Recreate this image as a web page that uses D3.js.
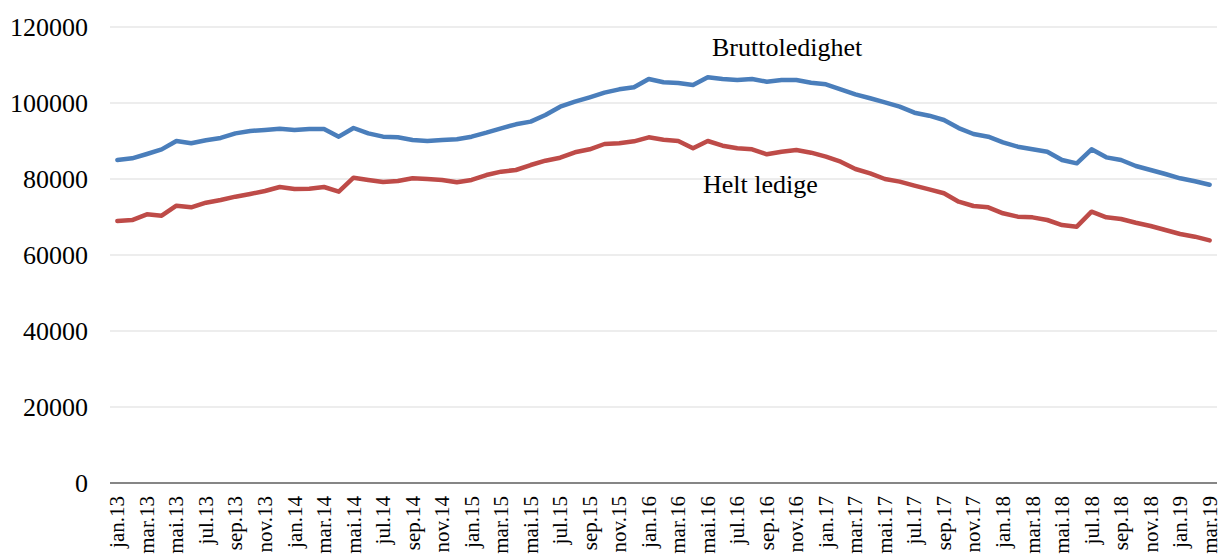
<!DOCTYPE html>
<meta charset="utf-8">
<head>
  <script src="https://d3js.org/d3.v7.min.js"></script>
  <style>
    body { margin: 0; background: #fff; }
    text { font-family: "Liberation Serif", "Times New Roman", serif; fill: #000; }
  </style>
</head>
<body>
<div id="my_dataviz"></div>
<script>
// monthly categories jan.13 .. mar.19
var monthNames = ["jan", "feb", "mar", "apr", "mai", "jun", "jul", "aug", "sep", "okt", "nov", "des"];
var months = [];
for (var yr = 13; yr <= 19; yr++) {
  for (var m = 0; m < 12; m++) {
    if (yr == 19 && m > 2) break;
    months.push(monthNames[m] + "." + yr);
  }
}

// Bruttoledighet
var brutto = [85000, 85450, 86580, 87800, 90000, 89400, 90180, 90800, 92000, 92630,
  92900, 93240, 92900, 93160, 93160, 91140, 93420, 92000, 91140, 90970,
  90260, 90000, 90260, 90440, 91140, 92190, 93340, 94390, 95090, 96840,
  99030, 100350, 101500, 102720, 103600, 104130, 106320, 105450, 105260, 104740,
  106760, 106320, 106050, 106320, 105610, 106050, 106050, 105350, 104920, 103600,
  102290, 101240, 100180, 99030, 97450, 96660, 95530, 93400, 91840, 91140,
  89650, 88500, 87820, 87190, 85000, 84120, 87820, 85700, 85000, 83420,
  82370, 81320, 80180, 79390, 78500];

// Helt ledige
var heltLedige = [68950, 69200, 70700, 70350, 72980, 72540, 73770, 74470, 75350, 76060,
  76850, 77900, 77370, 77460, 77900, 76670, 80350, 79740, 79210, 79470,
  80180, 80000, 79740, 79120, 79740, 81050, 81930, 82370, 83680, 84820,
  85610, 87020, 87820, 89210, 89390, 89920, 90970, 90350, 90000, 88080,
  90000, 88770, 88080, 87820, 86500, 87190, 87630, 86930, 85870, 84560,
  82630, 81490, 80000, 79300, 78250, 77280, 76240, 74030, 72890, 72540,
  70970, 70090, 69910, 69210, 67890, 67450, 71400, 69910, 69470, 68500,
  67630, 66580, 65530, 64820, 63850];

var yTicks = [0, 20000, 40000, 60000, 80000, 100000, 120000];

var W = 1225, H = 554;
var margin = { top: 27, right: 8, bottom: 71, left: 110 };

var svg = d3.select("#my_dataviz")
  .append("svg")
  .attr("width", W)
  .attr("height", H);

var x = d3.scaleBand()
  .domain(months)
  .range([margin.left, W - margin.right]);

var y = d3.scaleLinear()
  .domain([0, 120000])
  .range([H - margin.bottom, margin.top]);

// gridlines
svg.append("g")
  .selectAll("line")
  .data(yTicks.filter(function (d) { return d > 0; }))
  .enter()
  .append("line")
  .attr("x1", margin.left)
  .attr("x2", W - margin.right)
  .attr("y1", function (d) { return y(d); })
  .attr("y2", function (d) { return y(d); })
  .attr("stroke", "#ededed")
  .attr("stroke-width", 2);

// y labels
svg.append("g")
  .selectAll("text")
  .data(yTicks)
  .enter()
  .append("text")
  .attr("x", 88)
  .attr("y", function (d) { return y(d) + 9; })
  .attr("text-anchor", "end")
  .style("font-size", "26px")
  .text(function (d) { return d; });

// x axis line
svg.append("line")
  .attr("x1", margin.left)
  .attr("x2", W - margin.right)
  .attr("y1", y(0))
  .attr("y2", y(0))
  .attr("stroke", "#868686")
  .attr("stroke-width", 2);

// x labels, every other month
svg.append("g")
  .selectAll("text")
  .data(months.filter(function (d, i) { return i % 2 == 0; }))
  .enter()
  .append("text")
  .attr("transform", function (d) {
    return "translate(" + (x(d) + x.bandwidth() / 2 + 7) + "," + (y(0) + 13) + ")rotate(-90)";
  })
  .attr("text-anchor", "end")
  .style("font-size", "21px")
  .text(function (d) { return d; });

var line = d3.line()
  .x(function (d, i) { return x(months[i]) + x.bandwidth() / 2; })
  .y(function (d) { return y(d); });

svg.append("path")
  .datum(brutto)
  .attr("fill", "none")
  .attr("stroke", "#4a7ebb")
  .attr("stroke-width", 4.5)
  .attr("stroke-linejoin", "round")
  .attr("stroke-linecap", "round")
  .attr("d", line);

svg.append("path")
  .datum(heltLedige)
  .attr("fill", "none")
  .attr("stroke", "#be4b48")
  .attr("stroke-width", 4.5)
  .attr("stroke-linejoin", "round")
  .attr("stroke-linecap", "round")
  .attr("d", line);

// series labels
svg.append("text")
  .attr("x", 712)
  .attr("y", 56)
  .style("font-size", "26px")
  .text("Bruttoledighet");

svg.append("text")
  .attr("x", 703)
  .attr("y", 193)
  .style("font-size", "26px")
  .text("Helt ledige");
</script>
</body>
